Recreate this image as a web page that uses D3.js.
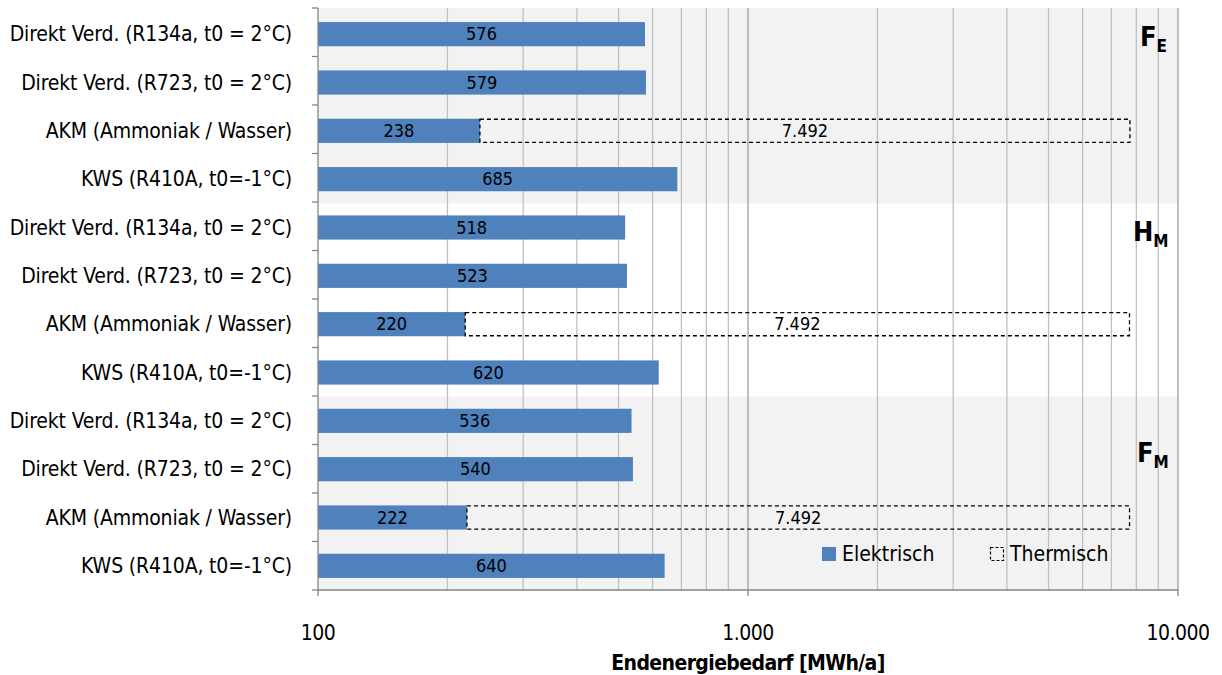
<!DOCTYPE html>
<html><head><meta charset="utf-8">
<script src="https://cdn.jsdelivr.net/npm/d3@7"></script>
<style>
body{margin:0;background:#fff;}
svg text{font-family:"Liberation Sans Narrow","DejaVu Sans Condensed","Roboto Condensed",sans-serif;fill:#000;}
</style></head><body>
<svg id="c" width="1222" height="675"></svg>
<script>
const categories = [
  "Direkt Verd. (R134a, t0 = 2°C)","Direkt Verd. (R723, t0 = 2°C)","AKM (Ammoniak / Wasser)","KWS (R410A, t0=-1°C)",
  "Direkt Verd. (R134a, t0 = 2°C)","Direkt Verd. (R723, t0 = 2°C)","AKM (Ammoniak / Wasser)","KWS (R410A, t0=-1°C)",
  "Direkt Verd. (R134a, t0 = 2°C)","Direkt Verd. (R723, t0 = 2°C)","AKM (Ammoniak / Wasser)","KWS (R410A, t0=-1°C)"
];
const elektrisch = [576,579,238,685,518,523,220,620,536,540,222,640];
const thermisch  = [0,0,7492,0,0,0,7492,0,0,0,7492,0];
const groups = [{main:"F",sub:"E"},{main:"H",sub:"M"},{main:"F",sub:"M"}];
const xTicks = [100,1000,10000];
const xTickLabels = ["100","1.000","10.000"];
const seriesNames = ["Elektrisch","Thermisch"];
const xTitle = "Endenergiebedarf [MWh/a]";

const svg = d3.select("#c");
const L=318, R=1178, T=10, B=590;
const x = d3.scaleLog().domain([100,10000]).range([L,R]);
const idx = categories.map((d,i)=>i);
const y = d3.scaleBand().domain(idx).range([T,B]).paddingInner(0.5).paddingOuter(0.25);
const step = y.step();
const fmt = v => d3.format(",")(v).replace(/,/g,".");

// group bands
groups.forEach((g,gi)=>{
  const y0 = y(gi*4) - y.paddingOuter()*step - (gi===0?2:0);
  const y1 = y(gi*4+3) + y.bandwidth() + y.paddingOuter()*step;
  if(gi!==1) svg.append("rect").attr("x",L).attr("y",y0).attr("width",R-L).attr("height",y1-y0).attr("fill","#f2f2f2");
});

// grid
const minor = [];
[100,1000].forEach(b=>{for(let k=2;k<=9;k++) minor.push(b*k);});
svg.append("g").selectAll("line").data(minor).join("line")
  .attr("x1",d=>x(d)).attr("x2",d=>x(d)).attr("y1",T-2).attr("y2",B)
  .attr("stroke","#c0c0c0").attr("stroke-width",1.3);
svg.append("g").selectAll("line").data([1000,10000]).join("line")
  .attr("x1",d=>x(d)).attr("x2",d=>x(d)).attr("y1",T-2).attr("y2",B)
  .attr("stroke","#a0a0a0").attr("stroke-width",1.3);

// bars
svg.append("g").selectAll("rect").data(idx).join("rect")
  .attr("x",x(100)).attr("y",i=>y(i)).attr("width",i=>x(elektrisch[i])-x(100)).attr("height",y.bandwidth())
  .attr("fill","#4f81bd");
svg.append("g").selectAll("rect").data(idx.filter(i=>thermisch[i]>0)).join("rect")
  .attr("x",i=>x(elektrisch[i])).attr("y",i=>y(i)+0.5)
  .attr("width",i=>x(elektrisch[i]+thermisch[i])-x(elektrisch[i])).attr("height",y.bandwidth()-1)
  .attr("fill","none").attr("stroke","#000").attr("stroke-width",1.3).attr("stroke-dasharray","4,3");

// value labels
svg.append("g").selectAll("text").data(idx).join("text")
  .attr("x",i=>(x(100)+x(elektrisch[i]))/2).attr("y",i=>y(i)+y.bandwidth()/2+6)
  .attr("text-anchor","middle").attr("font-size",18).text(i=>fmt(elektrisch[i]));
svg.append("g").selectAll("text").data(idx.filter(i=>thermisch[i]>0)).join("text")
  .attr("x",i=>(x(elektrisch[i])+x(elektrisch[i]+thermisch[i]))/2).attr("y",i=>y(i)+y.bandwidth()/2+6)
  .attr("text-anchor","middle").attr("font-size",18).text(i=>fmt(thermisch[i]));

// y axis
svg.append("line").attr("x1",L).attr("x2",L).attr("y1",T-2).attr("y2",B).attr("stroke","#868686").attr("stroke-width",1.3);
const bounds = d3.range(13).map(k=>T-2+ k*(B-T+2)/12);
svg.append("g").selectAll("line").data(bounds).join("line")
  .attr("x1",L-6).attr("x2",L).attr("y1",d=>d).attr("y2",d=>d).attr("stroke","#868686").attr("stroke-width",1.3);
svg.append("g").selectAll("text").data(idx).join("text")
  .attr("x",292).attr("y",i=>y(i)+y.bandwidth()/2+7)
  .attr("text-anchor","end").attr("font-size",21).attr("letter-spacing",-0.15).text(i=>categories[i]);

// x axis
svg.append("line").attr("x1",L).attr("x2",R).attr("y1",B).attr("y2",B).attr("stroke","#868686").attr("stroke-width",1.3);
svg.append("g").selectAll("line").data(xTicks).join("line")
  .attr("x1",d=>x(d)).attr("x2",d=>x(d)).attr("y1",B).attr("y2",B+6).attr("stroke","#868686").attr("stroke-width",1.3);
svg.append("g").selectAll("text").data(xTicks).join("text")
  .attr("x",d=>x(d)).attr("y",640).attr("text-anchor","middle").attr("font-size",21).attr("letter-spacing",-0.5).text((d,i)=>xTickLabels[i]);
svg.append("text").attr("x",748).attr("y",670).attr("text-anchor","middle").attr("font-size",21).attr("letter-spacing",-0.6).attr("font-weight","bold").text(xTitle);

// group labels
const gpos=[{x:1140,y:46},{x:1133,y:241},{x:1137,y:462}];
groups.forEach((g,gi)=>{
  const t=svg.append("text").attr("x",gpos[gi].x).attr("y",gpos[gi].y).attr("font-size",27).attr("font-weight","bold");
  t.append("tspan").text(g.main);
  t.append("tspan").attr("font-size",17).attr("dy",6).text(g.sub);
});

// legend
const lg = svg.append("g");
lg.append("rect").attr("x",822).attr("y",547).attr("width",14).attr("height",14).attr("fill","#4f81bd");
lg.append("text").attr("x",842).attr("y",561).attr("font-size",21).text(seriesNames[0]);
lg.append("rect").attr("x",990.5).attr("y",547.5).attr("width",13).attr("height",13).attr("fill","none").attr("stroke","#000").attr("stroke-width",1.2).attr("stroke-dasharray","3,2");
lg.append("text").attr("x",1010).attr("y",561).attr("font-size",21).text(seriesNames[1]);
</script></body></html>
